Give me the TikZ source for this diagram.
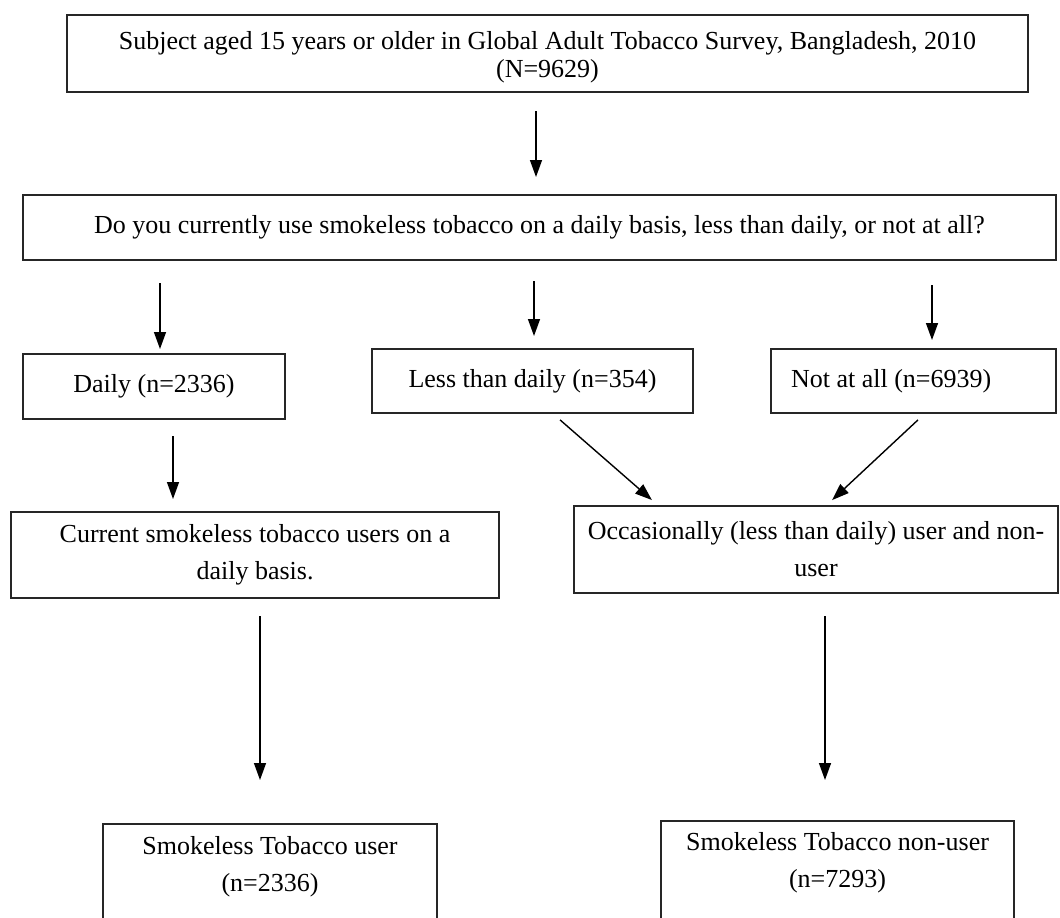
\documentclass[tikz,border=0pt]{standalone}
\usepackage{fontspec}
\setmainfont{Liberation Serif}
\usetikzlibrary{arrows.meta}
\begin{document}
\begin{tikzpicture}[x=0.5pt,y=-0.5pt,
  box/.style={draw=black!85, line width=1pt, inner sep=0pt, align=center, font=\fontsize{13}{18.5}\selectfont},
  txt/.style={inner sep=0pt, align=center, font=\fontsize{13}{18.5}\selectfont},
  arr/.style={draw=black, line width=0.7pt, -{Triangle[width=6pt,length=8.5pt]}},
]
\useasboundingbox (0,0) rectangle (1060,917);
\clip (0,0) rectangle (1060,917);
% boxes
\node[box, minimum width=480.5pt, minimum height=38.5pt, font=\fontsize{13}{14}\selectfont] (top) at (547.5,53.5)
  {\rule{0pt}{13pt}Subject aged 15 years or older in Global Adult Tobacco Survey, Bangladesh, 2010\\(N=9629)};
\node[box, minimum width=516.5pt, minimum height=32.5pt] (q) at (539.5,227.5)
  {Do you currently use smokeless tobacco on a daily basis, less than daily, or not at all?};
\node[box, minimum width=131pt, minimum height=32.5pt] (daily) at (154,386.5) {Daily (n=2336)};
\node[box, minimum width=160.5pt, minimum height=32pt] (less) at (532.5,381) {Less than daily (n=354)};
\node[box, text width=122.5pt, inner xsep=10pt, align=flush left, minimum height=32pt] (notall) at (913.5,381) {Not at all (n=6939)};
\node[box, minimum width=244pt, minimum height=43pt] (cur) at (255,555)
  {Current smokeless tobacco users on a\\daily basis.};
\node[box, minimum width=242pt, minimum height=43.5pt] (occ) at (816,549.5)
  {Occasionally (less than daily) user and non-\\user};
\node[box, anchor=north, minimum width=167pt, minimum height=80pt] (user) at (270,823) {};
\node[txt] (usert) at (270,866.5) {Smokeless Tobacco user\\(n=2336)};
\node[box, anchor=north, minimum width=176.5pt, minimum height=80pt] (non) at (837.5,820) {};
\node[txt] (nont) at (837.5,862.5) {Smokeless Tobacco non-user\\(n=7293)};
% arrow x positions
\coordinate (x1) at (536,0);
\coordinate (x2) at (160,0);
\coordinate (x3) at (534,0);
\coordinate (x4) at (932,0);
\coordinate (x5) at (173,0);
\coordinate (x6s) at (553.3,0);
\coordinate (x6e) at (657.6,0);
\coordinate (x7s) at (924.3,0);
\coordinate (x7e) at (826.8,0);
\coordinate (x8) at (260,0);
\coordinate (x9) at (825,0);
% arrows
\draw[arr, shorten <=9pt, shorten >=8.5pt] (top.south -| x1) -- (q.north -| x1);
\draw[arr, shorten <=11pt, shorten >=2pt] (q.south -| x2) -- (daily.north -| x2);
\draw[arr, shorten <=10pt, shorten >=6pt] (q.south -| x3) -- (less.north -| x3);
\draw[arr, shorten <=12pt, shorten >=4pt] (q.south -| x4) -- (notall.north -| x4);
\draw[arr, shorten <=8pt, shorten >=6pt] (daily.south -| x5) -- (cur.north -| x5);
\draw[arr, shorten <=4.5pt, shorten >=3.75pt] (less.south -| x6s) -- (occ.north -| x6e);
\draw[arr, shorten <=4.35pt, shorten >=3.6pt] (notall.south -| x7s) -- (occ.north -| x7e);
\draw[arr, shorten <=8.5pt, shorten >=21.5pt] (cur.south -| x8) -- (user.north -| x8);
\draw[arr, shorten <=11pt, shorten >=20pt] (occ.south -| x9) -- (non.north -| x9);
\end{tikzpicture}
\end{document}
